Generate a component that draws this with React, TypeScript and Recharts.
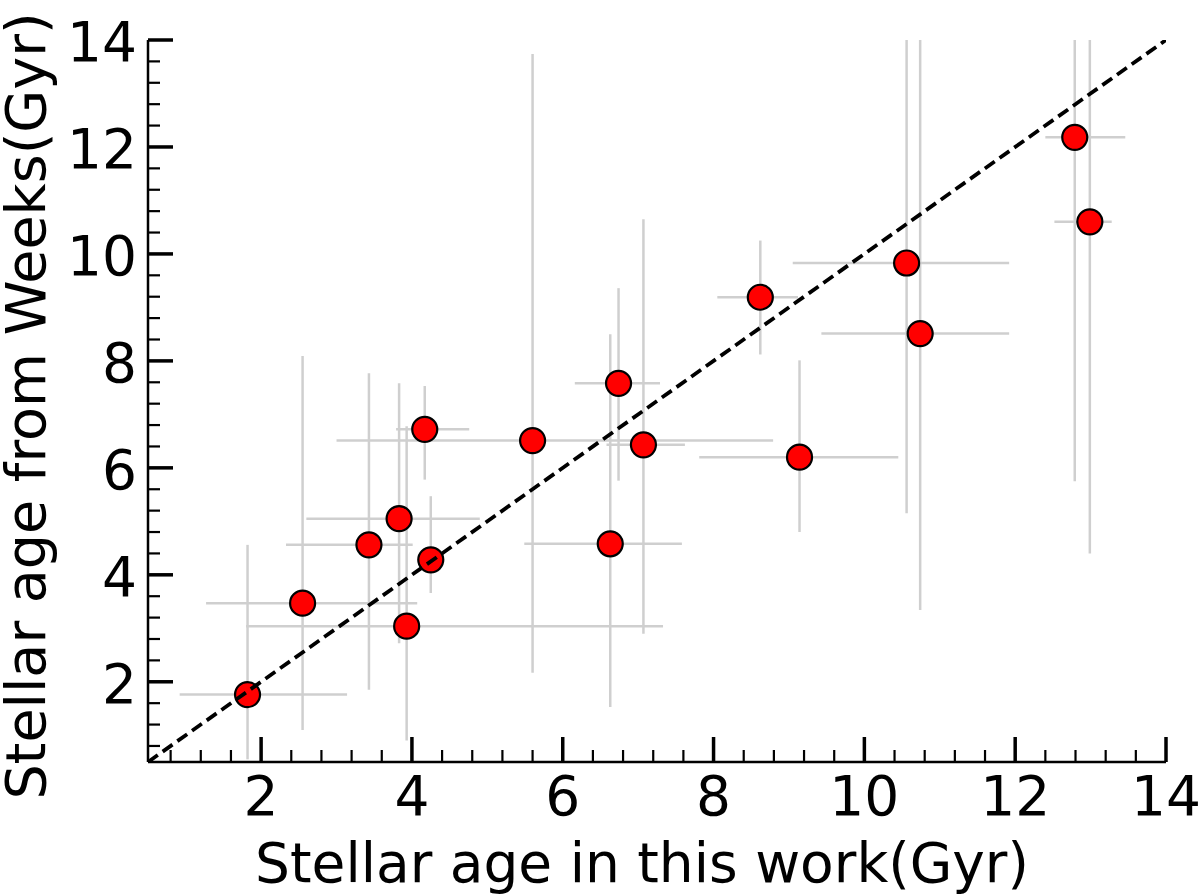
import React from 'react';
import { ScatterChart, Scatter, XAxis, YAxis, ErrorBar, Label } from 'recharts';

// Stellar age in this work (Gyr) — x values
const ageThisWork = [1.82, 2.55, 3.43, 3.83, 3.93, 4.17, 4.25, 5.60, 6.63, 6.74, 7.07, 8.62, 9.14, 10.56, 10.74, 12.79, 12.99];
// Stellar age from Weeks (Gyr) — y values
const ageWeeks = [1.76, 3.47, 4.56, 5.05, 3.04, 6.72, 4.28, 6.51, 4.58, 7.58, 6.43, 9.19, 6.20, 9.83, 8.51, 12.18, 10.60];
// x error bar ends
const xLow = [0.92, 1.27, 2.33, 2.60, 1.80, 3.79, 4.17, 3.00, 5.49, 6.16, 6.58, 8.05, 7.81, 9.05, 9.43, 12.40, 12.52];
const xHigh = [3.14, 4.07, 4.01, 4.90, 7.33, 4.76, 4.33, 8.79, 7.58, 7.29, 7.62, 9.12, 10.45, 11.92, 11.92, 13.46, 13.28];
// y error bar ends
const yLow = [0.55, 1.10, 1.85, 2.72, 0.90, 5.78, 3.66, 2.17, 1.53, 5.76, 2.90, 8.12, 4.80, 5.15, 3.34, 5.75, 4.40];
const yHigh = [4.56, 8.09, 7.77, 7.58, 6.78, 7.53, 5.47, 13.74, 8.50, 9.36, 10.65, 10.25, 8.01, 14.0, 14.0, 14.0, 14.0];

// one-to-one line
const diagonal = [0.5, 14];

const AXIS_MIN = 0.5;
const AXIS_MAX = 14;
const MAJOR_TICKS = [2, 4, 6, 8, 10, 12, 14];

const allTicks: number[] = [];
for (let k = 2; k <= 35; k++) allTicks.push(Math.round(k * 4) / 10);

const isMajor = (v: number) => MAJOR_TICKS.some((m) => Math.abs(m - v) < 1e-6);

const points = ageThisWork.map((x, i) => ({
  x,
  y: ageWeeks[i],
  xErr: [x - xLow[i], xHigh[i] - x],
  yErr: [ageWeeks[i] - yLow[i], yHigh[i] - ageWeeks[i]],
}));

const diagData = diagonal.map((v) => ({ x: v, y: v }));

const FONT = 'DejaVu Sans';
const FS = 55;

const XTick = (props: any) => {
  const { x, y, payload } = props;
  const v = payload.value;
  const major = isMajor(v);
  return (
    <g>
      <line x1={x} x2={x} y1={y} y2={y - (major ? 25 : 12)} stroke="#000" strokeWidth={major ? 3.5 : 2.2} />
      {major && (
        <text x={x} y={y + 53} textAnchor="middle" fontFamily={FONT} fontSize={FS} fill="#000">
          {v}
        </text>
      )}
    </g>
  );
};

const YTick = (props: any) => {
  const { x, y, payload } = props;
  const v = payload.value;
  const major = isMajor(v);
  return (
    <g>
      <line x1={x} x2={x + (major ? 25 : 12)} y1={y} y2={y} stroke="#000" strokeWidth={major ? 3.5 : 2.2} />
      {major && (
        <text x={x - 11} y={y + 21} textAnchor="end" fontFamily={FONT} fontSize={FS} fill="#000">
          {v}
        </text>
      )}
    </g>
  );
};

const Dot = (props: any) => {
  const { cx, cy } = props;
  if (cx == null || cy == null) return <g />;
  return <circle cx={cx} cy={cy} r={12.5} fill="#ff0000" stroke="#000" strokeWidth={2.2} />;
};

const Empty = () => <g />;

const XLabel = () => (
  <text x={642} y={882} textAnchor="middle" fontFamily={FONT} fontSize={FS} fill="#000">
    Stellar age in this work(Gyr)
  </text>
);

const YLabel = () => (
  <text x={45} y={406} transform="rotate(-90, 45, 406)" textAnchor="middle" fontFamily={FONT} fontSize={55.5} fill="#000">
    Stellar age from Weeks(Gyr)
  </text>
);

export default function App() {
  return (
    <div style={{ position: 'absolute', left: 0, top: 0, width: 1200, height: 894, background: '#fff' }}>
      <ScatterChart width={1200} height={894} margin={{ top: 40, right: 34, bottom: 0, left: 0 }}>
        <XAxis
          type="number"
          dataKey="x"
          xAxisId={0}
          domain={[AXIS_MIN, AXIS_MAX]}
          ticks={allTicks}
          interval={0}
          tick={<XTick />}
          tickLine={false}
          tickSize={0}
          tickMargin={0}
          height={132}
          allowDataOverflow
          axisLine={{ stroke: '#000', strokeWidth: 2.5 }}
        >
          <Label content={<XLabel />} />
        </XAxis>
        <XAxis
          type="number"
          xAxisId="top"
          orientation="top"
          domain={[AXIS_MIN, AXIS_MAX]}
          tick={false}
          tickLine={false}
          height={0}
          axisLine={{ stroke: '#000', strokeWidth: 1.5 }}
        />
        <YAxis
          type="number"
          dataKey="y"
          yAxisId={0}
          domain={[AXIS_MIN, AXIS_MAX]}
          ticks={allTicks}
          interval={0}
          tick={<YTick />}
          tickLine={false}
          tickSize={0}
          tickMargin={0}
          width={148}
          allowDataOverflow
          axisLine={{ stroke: '#000', strokeWidth: 2.5 }}
        >
          <Label content={<YLabel />} />
        </YAxis>
        <YAxis
          type="number"
          yAxisId="right"
          orientation="right"
          domain={[AXIS_MIN, AXIS_MAX]}
          tick={false}
          tickLine={false}
          width={0}
          axisLine={{ stroke: '#000', strokeWidth: 1.5 }}
        />
        <Scatter data={points} xAxisId={0} yAxisId={0} shape={<Dot />} isAnimationActive={false}>
          <ErrorBar dataKey="xErr" direction="x" width={0} stroke="#cfcfcf" strokeWidth={2.5} isAnimationActive={false} />
          <ErrorBar dataKey="yErr" direction="y" width={0} stroke="#cfcfcf" strokeWidth={2.5} isAnimationActive={false} />
        </Scatter>
        <Scatter
          data={diagData}
          xAxisId={0}
          yAxisId={0}
          shape={<Empty />}
          line={{ stroke: '#000', strokeWidth: 3.8, strokeDasharray: '12 6' }}
          isAnimationActive={false}
        />
      </ScatterChart>
    </div>
  );
}
